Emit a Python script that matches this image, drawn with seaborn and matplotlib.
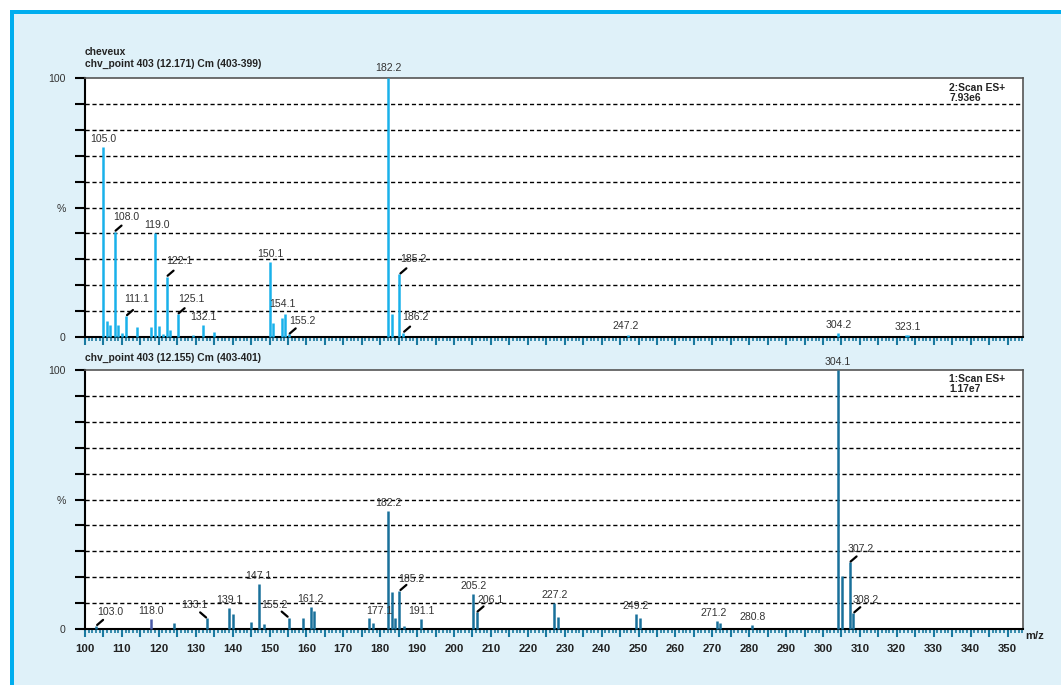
import matplotlib
matplotlib.use("Agg")
import matplotlib.pyplot as plt
import seaborn as sns
import pandas as pd
from matplotlib.patches import Rectangle
from matplotlib.ticker import MultipleLocator, FuncFormatter

# top spectrum: 2:Scan ES+ (relative intensity, %)
top_mz = [105.0, 105.9, 106.8, 108.0, 109.0, 110.0, 111.1, 114.2, 117.9, 119.0,
          120.1, 121.1, 122.1, 123.0, 125.1, 129.2, 132.1, 135.0, 150.1, 151.0,
          153.4, 154.1, 155.2, 182.2, 183.2, 185.2, 186.2, 247.2, 304.2, 322.6, 323.1]
top_pct = [73.5, 6.0, 4.6, 40.7, 4.6, 1.7, 8.1, 3.7, 3.7, 40.0,
           4.2, 1.2, 23.3, 2.7, 8.8, 0.8, 4.6, 1.8, 29.1, 5.5,
           7.5, 8.9, 1.0, 100.0, 8.9, 24.2, 1.7, 0.8, 1.7, 0.6, 0.6]
top_labels = ["105.0", "108.0", "111.1", "119.0", "122.1", "125.1", "132.1", "150.1",
              "154.1", "155.2", "182.2", "185.2", "186.2", "247.2", "304.2", "323.1"]

# bottom spectrum: 1:Scan ES+
bot_mz = [103.0, 118.0, 124.0, 133.1, 139.1, 140.0, 145.0, 147.1, 148.4, 155.2,
          159.1, 161.2, 162.1, 177.1, 178.0, 182.2, 183.2, 184.1, 185.2, 186.4,
          191.1, 205.2, 206.1, 227.2, 228.2, 249.2, 250.3, 271.2, 272.1, 280.8,
          304.1, 305.1, 307.2, 308.2]
bot_pct = [1.2, 3.7, 2.4, 4.1, 8.0, 5.8, 2.6, 17.2, 1.8, 4.4,
           4.1, 8.4, 7.1, 4.4, 2.4, 45.6, 14.2, 4.4, 14.7, 1.2,
           3.7, 13.5, 6.4, 10.2, 4.5, 5.7, 4.4, 3.1, 2.2, 1.5,
           100.0, 20.6, 25.7, 6.1]
bot_labels = ["103.0", "118.0", "133.1", "139.1", "147.1", "155.2", "161.2", "177.1",
              "182.2", "185.2", "191.1", "205.2", "206.1", "227.2", "249.2", "271.2",
              "280.8", "304.1", "307.2", "308.2"]

# label layout: (dx, dy) in pixels from the peak top, and leader direction
top_layout = {"108.0": (12, -15, "r"), "111.1": (11, -17, "r"), "119.0": (2, -8, None),
              "122.1": (13, -16, "r"), "125.1": (14, -15, "r"), "154.1": (-2, -10, None),
              "155.2": (14, -13, "r"), "182.2": (0, -10, None), "185.2": (14, -15, "r"),
              "186.2": (12, -16, "r"), "247.2": (-2, -9, None)}
bot_layout = {"103.0": (14, -14, "r"), "133.1": (-13, -13, "l"), "155.2": (-14, -13, "l"),
              "177.1": (10, -7, None), "185.2": (12, -12, "r"), "206.1": (14, -12, "r"),
              "307.2": (11, -13, "r"), "308.2": (12, -13, "r"), "271.2": (-3, -8, None)}

W, H = 1061, 685
sns.set_theme(style="white")
plt.rcParams["font.family"] = ["Liberation Sans", "DejaVu Sans"]

fig = plt.figure(figsize=(W / 100, H / 100), dpi=100, facecolor="white")

# light blue panel with cyan border on top and left
fig.patches.append(Rectangle((11 / W, 0), 1, 1 - 11 / H, transform=fig.transFigure,
                             facecolor="#dff1f9", edgecolor="none", zorder=-3))
fig.patches.append(Rectangle((10 / W, 0), 4 / W, 1 - 10 / H, transform=fig.transFigure,
                             facecolor="#00aeef", edgecolor="none", zorder=-2))
fig.patches.append(Rectangle((10 / W, 1 - 14 / H), 1, 4 / H, transform=fig.transFigure,
                             facecolor="#00aeef", edgecolor="none", zorder=-2))

left, right = 85 / W, 1023 / W
ax_top = fig.add_axes([left, 1 - 337 / H, right - left, 259 / H])
ax_bot = fig.add_axes([left, 1 - 629 / H, right - left, 259 / H])

PX = 0.72  # points per pixel


def draw(ax, mz, pct, labels, layout, color, special=None, show_x=False):
    df = pd.DataFrame({"mz": mz, "pct": pct})
    ax.set_facecolor("white")
    ax.set_xlim(100, 354.2)
    ax.set_ylim(0, 100)
    for y in range(10, 100, 10):
        ax.axhline(y, color="black", lw=1, ls=(0, (3, 2)), zorder=1)
    colors = [special.get(m, color) if special else color for m in df["mz"]]
    ax.vlines(df["mz"], 0, df["pct"], colors=colors, lw=1.8, zorder=3, clip_on=False)
    lookup = dict(zip([f"{m:.1f}" for m in mz], pct))
    for lab in labels:
        m = float(lab)
        p = lookup[lab]
        dx, dy, lead = layout.get(lab, (0, -8, None))
        ax.annotate(lab, (m, p), xytext=(dx * PX, -dy * PX), textcoords="offset points",
                    ha="center", va="center", fontsize=7.6, color="#333333",
                    annotation_clip=False, zorder=5)
        if lead:
            s = 1 if lead == "r" else -1
            ax.annotate("", (m, p), xytext=(s * 7 * PX, 6 * PX), textcoords="offset points",
                        arrowprops=dict(arrowstyle="-", color="black", lw=1.6,
                                        shrinkA=0, shrinkB=1),
                        annotation_clip=False, zorder=5)
    for side in ["left", "bottom"]:
        ax.spines[side].set_color("black")
        ax.spines[side].set_linewidth(1.5)
    for side in ["top", "right"]:
        ax.spines[side].set_color("#555555")
        ax.spines[side].set_linewidth(1.2)
    ax.yaxis.set_major_locator(MultipleLocator(10))
    ax.yaxis.set_major_formatter(FuncFormatter(
        lambda v, _: {0: "0", 100: "100", 50: "%"}.get(int(round(v)), "")))
    ax.tick_params(axis="y", direction="out", length=7, width=1.5, color="black",
                   labelsize=7.6, labelcolor="#333333", pad=7, left=True)
    ax.xaxis.set_major_locator(MultipleLocator(5))
    ax.xaxis.set_minor_locator(MultipleLocator(1))
    ax.xaxis.set_major_formatter(FuncFormatter(
        lambda v, _: f"{int(round(v))}" if show_x and int(round(v)) % 10 == 0 else ""))
    ax.tick_params(axis="x", which="major", direction="out", length=6, width=1.5,
                   color="#1a7aa0", labelsize=8.2, pad=5, bottom=True)
    ax.tick_params(axis="x", which="minor", direction="out", length=3, width=1.2,
                   color="#1a7aa0", bottom=True)
    for t in ax.get_xticklabels():
        t.set_fontweight("bold")
        t.set_color("#222222")
    ax.set_xlabel("")
    ax.set_ylabel("")


draw(ax_top, top_mz, top_pct, top_labels, top_layout, "#19b1ea")
draw(ax_bot, bot_mz, bot_pct, bot_labels, bot_layout, "#19709a",
     special={118.0: "#4a5aa6"}, show_x=True)

title_kw = dict(fontsize=7.4, fontweight="bold", color="#222222", ha="left", va="center")
fig.text(85 / W, 1 - 52 / H, "cheveux", **title_kw)
fig.text(85 / W, 1 - 64 / H, "chv_point 403 (12.171) Cm (403-399)", **title_kw)
fig.text(85 / W, 1 - 358 / H, "chv_point 403 (12.155) Cm (403-401)", **title_kw)
fig.text(949 / W, 1 - 93 / H, "2:Scan ES+\n7.93e6", fontsize=7.4, fontweight="bold",
         color="#222222", ha="left", va="center", linespacing=0.95)
fig.text(949 / W, 1 - 384 / H, "1:Scan ES+\n1.17e7", fontsize=7.4, fontweight="bold",
         color="#222222", ha="left", va="center", linespacing=0.95)
fig.text(1035 / W, 1 - 636 / H, "m/z", fontsize=8, fontweight="bold",
         color="#222222", ha="center", va="center")

fig.savefig("out.png", dpi=100, facecolor=fig.get_facecolor())
